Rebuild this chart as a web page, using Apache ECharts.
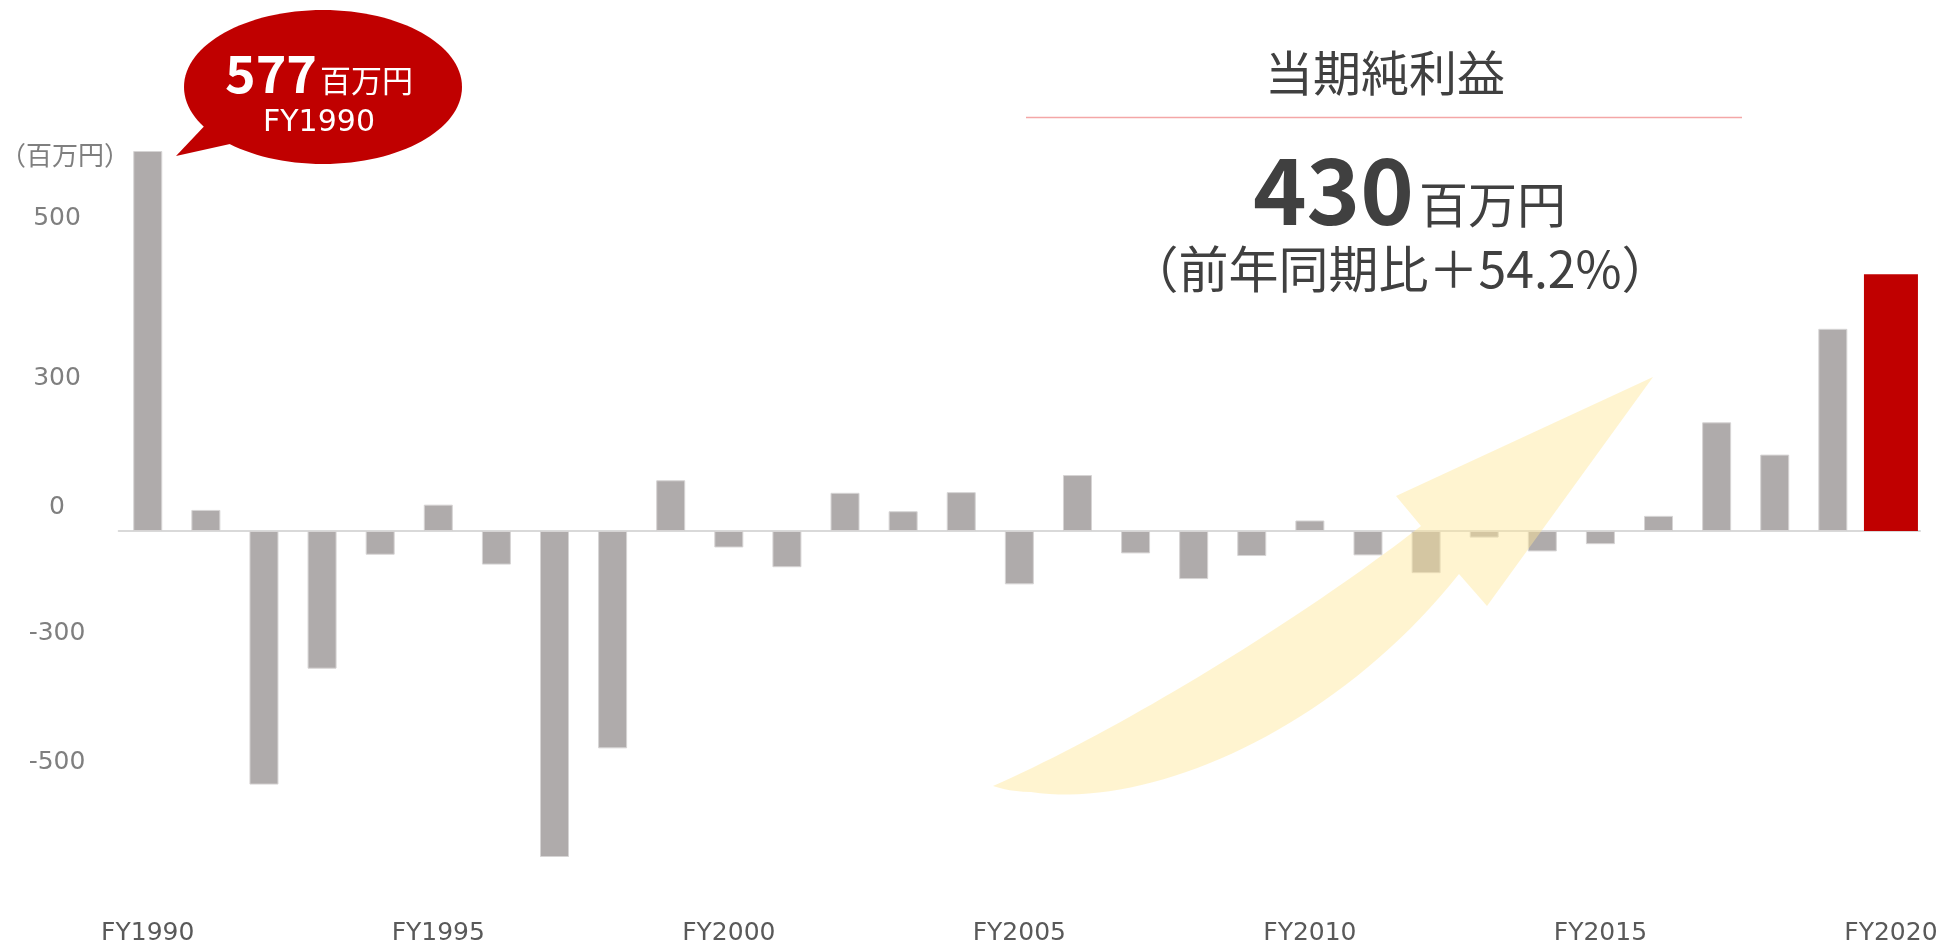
<!DOCTYPE html>
<html>
<head>
<meta charset="utf-8">
<script src="https://cdn.jsdelivr.net/npm/echarts@6/dist/echarts.min.js"></script>
<style>
  html, body { margin: 0; padding: 0; background: #ffffff; }
  #chart { width: 1943px; height: 942px; }
</style>
</head>
<body>
<div id="chart"></div>
<script>
// ---- data ----
const categories = ['FY1990','FY1991','FY1992','FY1993','FY1994','FY1995','FY1996','FY1997','FY1998','FY1999',
                    'FY2000','FY2001','FY2002','FY2003','FY2004','FY2005','FY2006','FY2007','FY2008','FY2009',
                    'FY2010','FY2011','FY2012','FY2013','FY2014','FY2015','FY2016','FY2017','FY2018','FY2019','FY2020'];
const netIncome = [577, 32, -385, -209, -36, 40, -51, -495, -330, 77,
                   -25, -55, 58, 30, 59, -81, 85, -34, -73, -38,
                   16, -37, -64, -10, -31, -20, 23, 165, 116, 307, 390];
const highlightIndex = 30;
const yTickValues = [475, 232, 36, -156, -352];
const yTickLabels = ['500', '300', '0', '-300', '-500'];
const unitLabel = '（百万円）';
const calloutValue = '577';
const calloutUnit = '百万円';
const calloutYear = 'FY1990';
const panelTitle = '当期純利益';
const panelValue = '430';
const panelUnit = '百万円';
const panelChange = '（前年同期比＋54.2%）';

const grayData = netIncome.map((v, i) => i === highlightIndex ? null : v);
const redData = netIncome.map((v, i) => i === highlightIndex ? v : null);

const JP = "'Noto Sans CJK JP', 'DejaVu Sans', sans-serif";
const LAT = "'DejaVu Sans', 'Noto Sans CJK JP', sans-serif";

// decorative arrow outline (cubic curves sampled into a polygon)
function cubic(p0, p1, p2, p3, n) {
  const pts = [];
  for (let k = 0; k <= n; k++) {
    const t = k / n, u = 1 - t;
    pts.push([
      u*u*u*p0[0] + 3*u*u*t*p1[0] + 3*u*t*t*p2[0] + t*t*t*p3[0],
      u*u*u*p0[1] + 3*u*u*t*p1[1] + 3*u*t*t*p2[1] + t*t*t*p3[1]
    ]);
  }
  return pts;
}
const arrowPts = []
  .concat(cubic([993, 786], [1120, 730], [1300, 620], [1421, 526], 40))
  .concat([[1396, 496], [1653, 377], [1487, 606]])
  .concat(cubic([1459, 574], [1335, 730], [1150, 810], [1031, 792], 40))
  .concat(cubic([1031, 792], [1015, 792], [1003, 789], [993, 786], 6));

const chart = echarts.init(document.getElementById('chart'), null, { renderer: 'canvas' });
const option = {
  animation: false,
  backgroundColor: '#ffffff',
  grid: { left: 118.7, right: 23, top: 109.5, bottom: 29, containLabel: false, outerBoundsMode: 'none' },
  xAxis: [
    {
      type: 'category', data: categories, gridIndex: 0, position: 'bottom',
      axisLine: { show: false, onZero: false },
      axisTick: { show: false },
      splitLine: { show: false },
      axisLabel: { show: true, interval: 4, color: '#595959', fontSize: 25, fontFamily: LAT, margin: 8, hideOverlap: false }
    },
    {
      type: 'category', data: categories, gridIndex: 0, position: 'bottom',
      axisLine: { show: true, onZero: true, lineStyle: { color: '#D9D9D9', width: 2 } },
      axisTick: { show: false },
      splitLine: { show: false },
      axisLabel: { show: false }
    }
  ],
  yAxis: {
    type: 'value', min: -580, max: 640,
    axisLine: { show: false }, axisTick: { show: false }, splitLine: { show: false },
    axisLabel: {
      show: true,
      customValues: yTickValues,
      formatter: function (v) {
        const idx = yTickValues.indexOf(v);
        return idx >= 0 ? yTickLabels[idx] : '';
      },
      color: '#7F7F7F', fontSize: 25, fontFamily: LAT, align: 'center', margin: 61.7
    }
  },
  series: [
    {
      type: 'bar', xAxisIndex: 0, yAxisIndex: 0, data: grayData, barWidth: 29,
      itemStyle: { color: '#AFABAB', borderColor: '#D6D4D4', borderWidth: 1 }
    },
    {
      type: 'bar', xAxisIndex: 1, yAxisIndex: 0, data: redData, barWidth: 54,
      itemStyle: { color: '#C00000' }
    }
  ],
  graphic: [
    { type: 'text', x: 0, y: 155, z: 50,
      style: { text: unitLabel, fill: '#7F7F7F', font: '26px ' + JP, align: 'left', verticalAlign: 'middle' } },
    { type: 'polygon', z: 100, shape: { points: arrowPts },
      style: { fill: '#FFE699', opacity: 0.46 } },
    { type: 'ellipse', z: 110, shape: { cx: 323, cy: 87, rx: 139, ry: 77 }, style: { fill: '#C00000' } },
    { type: 'polygon', z: 110, shape: { points: [[212, 118], [176, 156], [248, 140]] }, style: { fill: '#C00000' } },
    { type: 'text', x: 317, y: 73, z: 120,
      style: { text: calloutValue, fill: '#ffffff', font: 'bold 52px ' + JP, align: 'right', verticalAlign: 'middle' } },
    { type: 'text', x: 320, y: 80, z: 120,
      style: { text: calloutUnit, fill: '#ffffff', font: '31px ' + JP, align: 'left', verticalAlign: 'middle' } },
    { type: 'text', x: 319, y: 123, z: 120,
      style: { text: calloutYear, fill: '#ffffff', font: '30px ' + LAT, align: 'center', verticalAlign: 'middle' } },
    { type: 'text', x: 1385, y: 73, z: 50,
      style: { text: panelTitle, fill: '#404040', font: '48px ' + JP, align: 'center', verticalAlign: 'middle' } },
    { type: 'line', z: 50, shape: { x1: 1026, y1: 117.5, x2: 1742, y2: 117.5 }, style: { stroke: '#F4A7A7', lineWidth: 1.5 } },
    { type: 'text', x: 1414, y: 190, z: 50,
      style: { text: panelValue, fill: '#404040', font: 'bold 91px ' + JP, align: 'right', verticalAlign: 'middle' } },
    { type: 'text', x: 1419, y: 204, z: 50,
      style: { text: panelUnit, fill: '#404040', font: '49px ' + JP, align: 'left', verticalAlign: 'middle' } },
    { type: 'text', x: 1400, y: 269, z: 50,
      style: { text: panelChange, fill: '#404040', font: '50px ' + JP, align: 'center', verticalAlign: 'middle' } }
  ]
};
chart.setOption(option);
</script>
</body>
</html>
